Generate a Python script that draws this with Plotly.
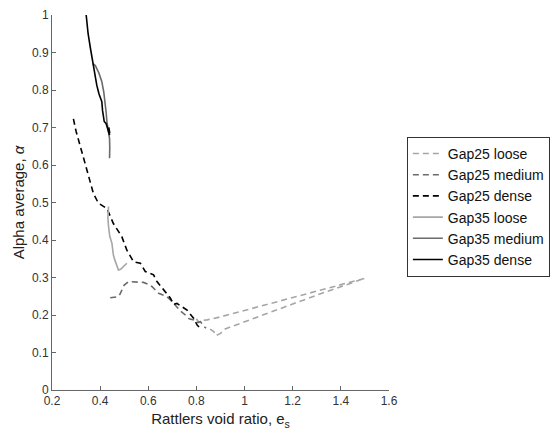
import plotly.graph_objects as go

# ---- data ----
g25_loose_x = [0.80, 0.81, 0.82, 0.845, 0.90, 1.00, 1.15, 1.30, 1.50, 1.30, 1.15, 1.00, 0.92, 0.90, 0.88, 0.872, 0.86, 0.85]
g25_loose_y = [0.19, 0.18, 0.185, 0.187, 0.195, 0.212, 0.238, 0.264, 0.298, 0.253, 0.218, 0.183, 0.163, 0.151, 0.145, 0.156, 0.16, 0.165]

g25_medium_x = [0.442, 0.476, 0.482, 0.49, 0.50, 0.518, 0.553, 0.58, 0.60, 0.615, 0.643, 0.66, 0.678, 0.70, 0.719, 0.735, 0.754, 0.77, 0.789, 0.80, 0.817, 0.83, 0.84]
g25_medium_y = [0.246, 0.249, 0.255, 0.267, 0.28, 0.289, 0.289, 0.287, 0.282, 0.276, 0.258, 0.253, 0.249, 0.235, 0.222, 0.21, 0.20, 0.19, 0.187, 0.18, 0.182, 0.17, 0.165]

g25_dense_x = [0.289, 0.30, 0.3375, 0.372, 0.393, 0.428, 0.455, 0.49, 0.511, 0.539, 0.567, 0.5875, 0.622, 0.636, 0.664, 0.692, 0.705, 0.719, 0.74, 0.761, 0.789, 0.803, 0.817]
g25_dense_y = [0.723, 0.69, 0.604, 0.524, 0.498, 0.484, 0.444, 0.409, 0.373, 0.342, 0.338, 0.316, 0.307, 0.289, 0.267, 0.245, 0.228, 0.231, 0.222, 0.213, 0.191, 0.173, 0.164]

g35_loose_x = [0.435, 0.432, 0.435, 0.44, 0.449, 0.452, 0.455, 0.462, 0.47, 0.476, 0.485, 0.497, 0.511]
g35_loose_y = [0.489, 0.46, 0.435, 0.41, 0.391, 0.37, 0.36, 0.345, 0.329, 0.32, 0.322, 0.329, 0.338]

g35_medium_x = [0.37, 0.38, 0.395, 0.407, 0.415, 0.421, 0.425, 0.428, 0.435, 0.439, 0.44, 0.439]
g35_medium_y = [0.87, 0.865, 0.845, 0.822, 0.795, 0.769, 0.74, 0.716, 0.69, 0.671, 0.645, 0.618]

g35_dense_x = [0.342, 0.35, 0.36, 0.37, 0.378, 0.386, 0.395, 0.407, 0.41, 0.417, 0.425, 0.432, 0.435, 0.439, 0.436, 0.44]
g35_dense_y = [1.0, 0.95, 0.91, 0.87, 0.84, 0.813, 0.79, 0.769, 0.745, 0.716, 0.71, 0.695, 0.689, 0.68, 0.70, 0.685]

names = ["Gap25 loose", "Gap25 medium", "Gap25 dense", "Gap35 loose", "Gap35 medium", "Gap35 dense"]
xs = [g25_loose_x, g25_medium_x, g25_dense_x, g35_loose_x, g35_medium_x, g35_dense_x]
ys = [g25_loose_y, g25_medium_y, g25_dense_y, g35_loose_y, g35_medium_y, g35_dense_y]
colors = ["#a6a6a6", "#6b6b6b", "#000000", "#a6a6a6", "#6b6b6b", "#000000"]
dashes = ["6px,4px"] * 3 + ["solid"] * 3

x_ticks = [0.2, 0.4, 0.6, 0.8, 1.0, 1.2, 1.4, 1.6]
y_ticks = [0, 0.1, 0.2, 0.3, 0.4, 0.5, 0.6, 0.7, 0.8, 0.9, 1.0]

fig = go.Figure()
for n, x, y, c, d in zip(names, xs, ys, colors, dashes):
    fig.add_trace(go.Scatter(x=x, y=y, mode="lines", name=n,
                             line=dict(color=c, width=1.6, dash=d)))

font = "Liberation Sans, Arial, Helvetica, sans-serif"
axis_common = dict(showgrid=False, zeroline=False, showline=True, linecolor="#666666",
                   linewidth=1, ticks="inside", ticklen=4, tickcolor="#666666",
                   tickfont=dict(size=12, color="#333333", family=font), mirror=False)

fig.update_layout(
    width=556, height=430,
    margin=dict(l=52, r=167, t=15, b=40, autoexpand=False),
    paper_bgcolor="white", plot_bgcolor="white",
    font=dict(family=font, color="#222222"),
    xaxis=dict(range=[0.2, 1.6], tickvals=x_ticks, ticktext=["0.2", "0.4", "0.6", "0.8", "1", "1.2", "1.4", "1.6"],
               title=dict(text="Rattlers void ratio, e<sub>s</sub>", font=dict(size=15, color="#222222"), standoff=6),
               automargin=False, **axis_common),
    yaxis=dict(range=[0, 1], tickvals=y_ticks, ticktext=["0", "0.1", "0.2", "0.3", "0.4", "0.5", "0.6", "0.7", "0.8", "0.9", "1"],
               title=dict(text="Alpha average, <i>α</i>", font=dict(size=15, color="#222222"), standoff=3),
               automargin=False, **axis_common),
    legend=dict(x=1.053, y=0.675, xanchor="left", yanchor="top",
                bordercolor="#333333", borderwidth=1, bgcolor="white",
                font=dict(size=14, color="#111111", family=font),
                tracegroupgap=0, itemwidth=30),
    showlegend=True,
)

fig.write_html("out.html")
